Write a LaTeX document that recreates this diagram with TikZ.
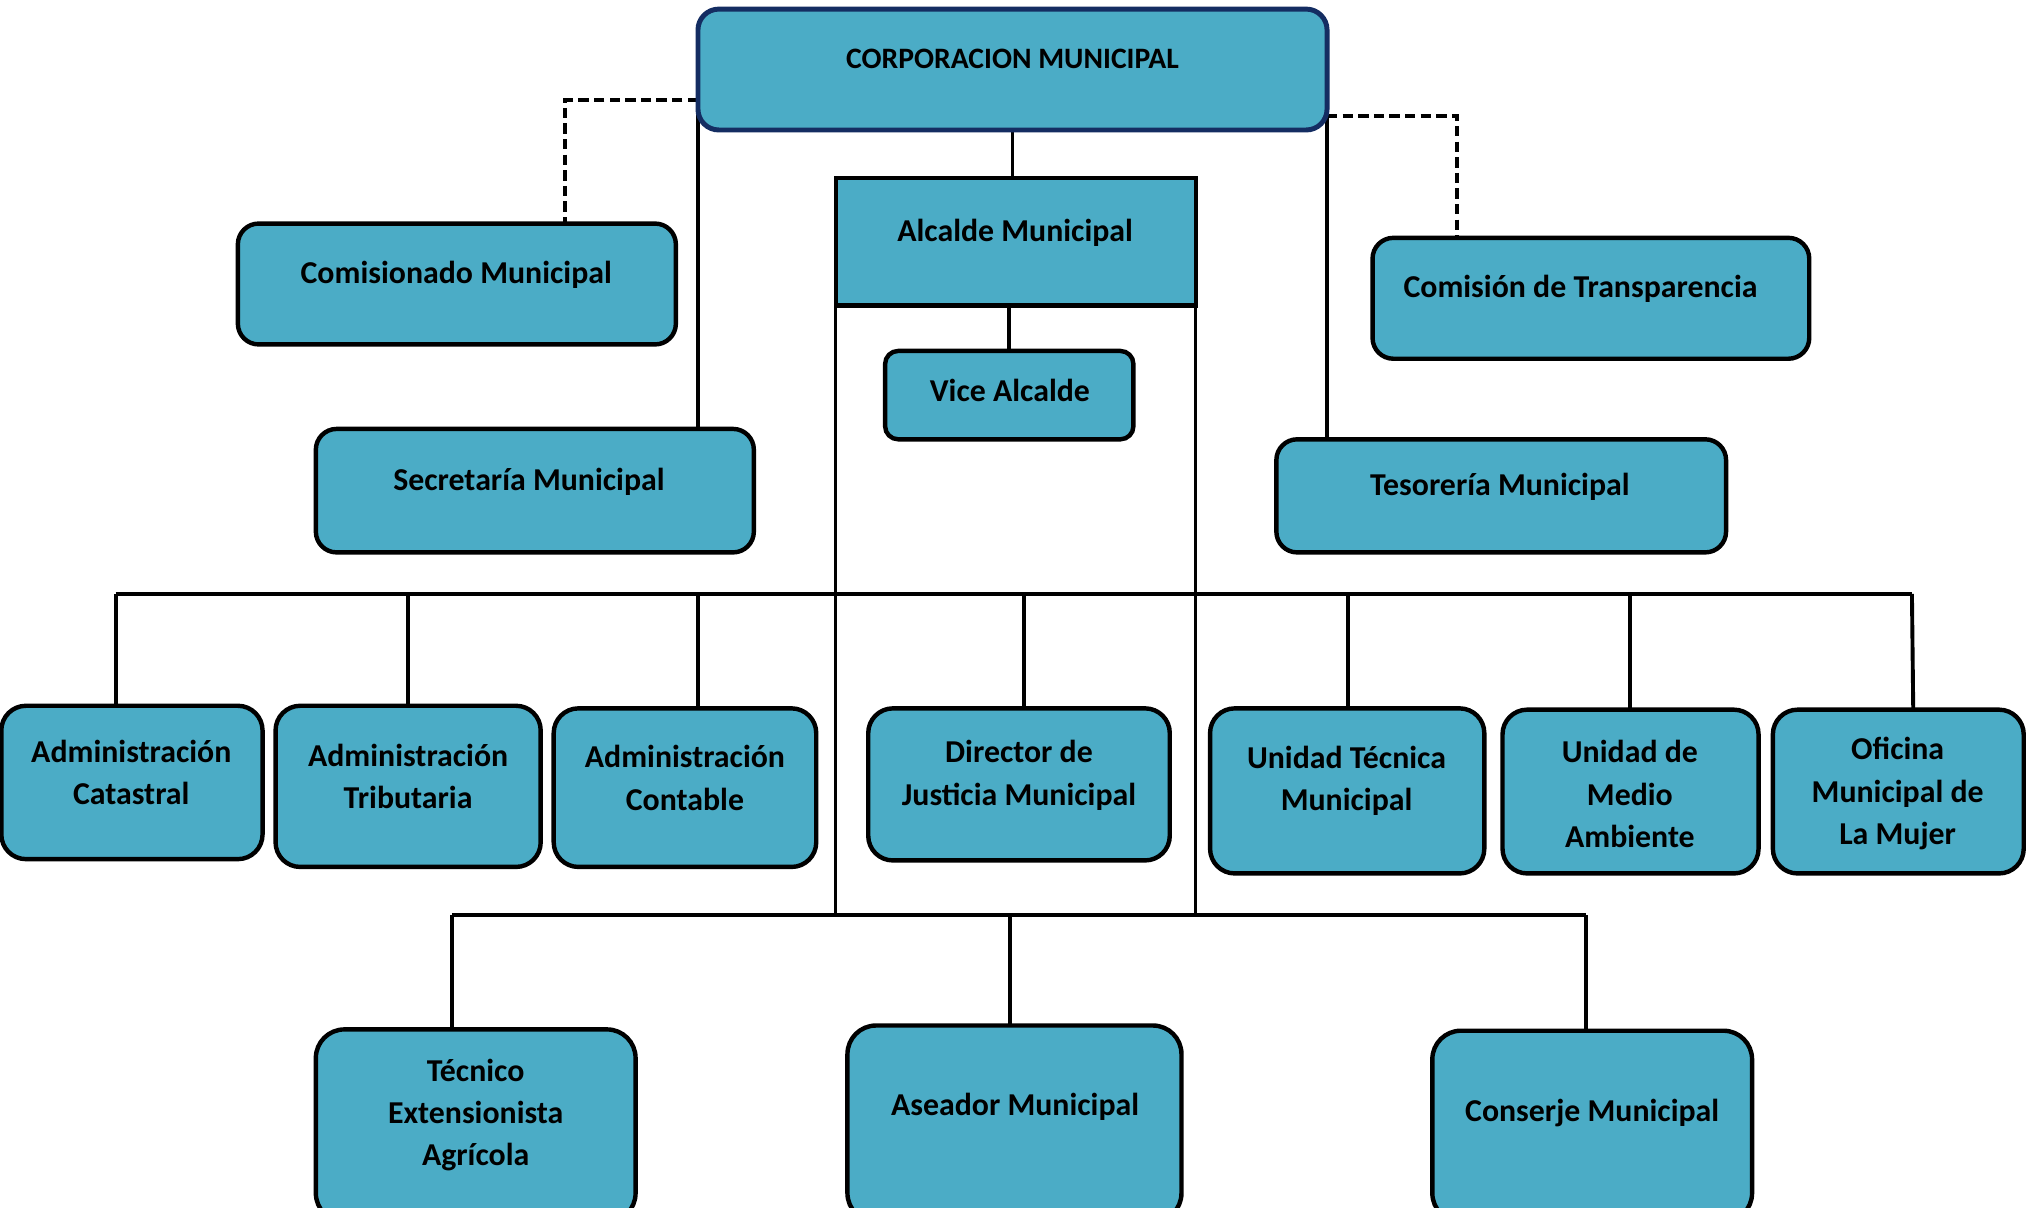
\documentclass[tikz,border=0pt]{standalone}
\usepackage{fontspec}
\setmainfont{Carlito}
\usetikzlibrary{backgrounds}
\definecolor{boxfill}{HTML}{4BACC6}
\definecolor{navyline}{HTML}{142D62}
\tikzset{
  orgbox/.style={draw=black, line width=3.4pt, fill=boxfill, rounded corners=16pt, inner sep=0pt, outer sep=0pt},
  rectbox/.style={draw=black, line width=3.4pt, fill=boxfill, inner sep=0pt, outer sep=0pt},
  topbox/.style={draw=navyline, line width=3.8pt, fill=boxfill, rounded corners=16pt, inner sep=0pt, outer sep=0pt},
  lbl/.style={font=\bfseries\fontsize{24.5}{32.5}\selectfont, align=center, inner sep=0pt},
  toplbl/.style={font=\bfseries\fontsize{22.8}{26}\selectfont, align=center, inner sep=0pt},
  conn/.style={line width=3pt},
  thinconn/.style={line width=2.5pt},
  dashconn/.style={line width=3pt, dash pattern=on 8pt off 4pt},
}
\begin{document}
\begin{tikzpicture}[x=1pt,y=-1pt]
\clip (0,0) rectangle (1568,929);
% boxes
\node[topbox, minimum width=484pt, minimum height=93pt] (corp) at (779,53.5) {};
\node[orgbox, minimum width=337pt, minimum height=93pt] (com) at (351.5,218.5) {};
\node[orgbox, minimum width=336pt, minimum height=93pt] (trans) at (1224,229.5) {};
\node[orgbox, minimum width=337pt, minimum height=95pt] (sec) at (411.5,377.5) {};
\node[orgbox, minimum width=346pt, minimum height=87pt] (tes) at (1155,381.5) {};
\node[rectbox, minimum width=277pt, minimum height=98pt] (alc) at (781.5,186) {};
\node[orgbox, rounded corners=10pt, minimum width=191pt, minimum height=68pt] (vice) at (776.5,304) {};
\node[orgbox, rounded corners=19pt, minimum width=201pt, minimum height=118pt] (cat) at (101.5,602) {};
\node[orgbox, rounded corners=19pt, minimum width=204pt, minimum height=124pt] (trib) at (314,605) {};
\node[orgbox, rounded corners=19pt, minimum width=202pt, minimum height=122pt] (cont) at (527,606) {};
\node[orgbox, rounded corners=19pt, minimum width=232pt, minimum height=117pt] (dir) at (784,603.5) {};
\node[orgbox, rounded corners=19pt, minimum width=211pt, minimum height=127pt] (ut) at (1036.5,608.5) {};
\node[orgbox, rounded corners=19pt, minimum width=197pt, minimum height=126pt] (ma) at (1254.5,609) {};
\node[orgbox, rounded corners=19pt, minimum width=193pt, minimum height=126pt] (of) at (1460.5,609) {};
\node[orgbox, rounded corners=22pt, minimum width=246pt, minimum height=148pt] (tec) at (366,866) {};
\node[orgbox, rounded corners=22pt, minimum width=257pt, minimum height=151pt] (ase) at (780.5,864.5) {};
\node[orgbox, rounded corners=22pt, minimum width=246pt, minimum height=147pt] (con) at (1225,866.5) {};
% texts
\node[toplbl] (t-corp) at (779,45) {CORPORACION MUNICIPAL};
\node[lbl] (t-com) at (351,211.5) {Comisionado Municipal};
\node[lbl] (t-trans) at (1216,222.5) {Comisión de Transparencia};
\node[lbl] (t-sec) at (407,370.5) {Secretaría Municipal};
\node[lbl] (t-tes) at (1154,374.5) {Tesorería Municipal};
\node[lbl] (t-alc) at (781,179.5) {Alcalde Municipal};
\node[lbl] (t-vice) at (777,300.5) {Vice Alcalde};
\node[lbl] (t-cat) at (101,594.5) {Administración\\Catastral};
\node[lbl] (t-trib) at (314,597.5) {Administración\\Tributaria};
\node[lbl] (t-cont) at (527,598.5) {Administración\\Contable};
\node[lbl] (t-dir) at (784,596.5) {Director de\\Justicia Municipal};
\node[lbl] (t-ut) at (1036,601) {Unidad Técnica\\Municipal};
\node[lbl] (t-ma) at (1254,611) {Unidad de\\Medio\\Ambiente};
\node[lbl] (t-of) at (1460,610.5) {Oficina\\Municipal de\\La Mujer};
\node[lbl] (t-tec) at (366,858) {Técnico\\Extensionista\\Agrícola};
\node[lbl] (t-ase) at (781,851.5) {Aseador Municipal};
\node[lbl] (t-con) at (1225,856.5) {Conserje Municipal};
% bus coordinates
\coordinate (a1) at (89,457);
\coordinate (a2) at (314,457);
\coordinate (a3) at (537,457);
\coordinate (a4) at (788,457);
\coordinate (a5) at (1037,457);
\coordinate (a6) at (1254,457);
\coordinate (a7) at (1471,457);
\coordinate (b1) at (348,704);
\coordinate (b2) at (777,704);
\coordinate (b3) at (1220,704);
\begin{scope}[on background layer]
\fill[white] (0,0) rectangle (1568,929);
\draw[conn] (corp.south) -- (corp.south |- alc.north);
\draw[conn] (vice.north) -- (vice.north |- alc.south);
\draw[conn] (corp.west) -- (corp.west |- sec.north);
\draw[conn] (corp.east) -- (corp.east |- tes.north);
\draw[dashconn] ([yshift=-23.5pt]corp.west) -| ([xshift=83.5pt]com.north);
\draw[dashconn] ([yshift=-35.5pt]corp.east) -| ([xshift=-103pt]trans.north);
\draw[thinconn] (alc.south west) -- (alc.south west |- b1);
\draw[thinconn] (alc.south east) -- (alc.south east |- b1);
\draw[thinconn] (a1) -- (a7);
\draw[conn] (a1) -- (a1 |- cat.north);
\draw[conn] (a2) -- (a2 |- trib.north);
\draw[conn] (a3) -- (a3 |- cont.north);
\draw[conn] (a4) -- (a4 |- dir.north);
\draw[conn] (a5) -- (a5 |- ut.north);
\draw[conn] (a6) -- (a6 |- ma.north);
\draw[conn] (a7) -- ([xshift=1pt]a7 |- of.north);
\draw[thinconn] (b1) -- (b3);
\draw[conn] (b1) -- (b1 |- tec.north);
\draw[conn] (b2) -- (b2 |- ase.north);
\draw[conn] (b3) -- (b3 |- con.north);
\end{scope}
\end{tikzpicture}
\end{document}
